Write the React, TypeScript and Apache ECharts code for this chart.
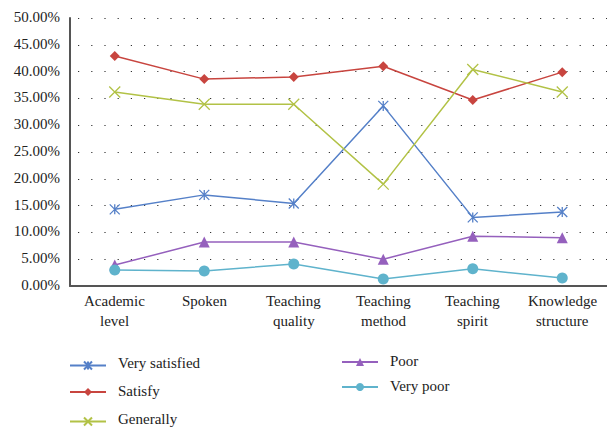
import React, { useEffect, useRef } from "react";
import * as echarts from "echarts";

const categories = ["Academic\nlevel", "Spoken", "Teaching\nquality", "Teaching\nmethod", "Teaching\nspirit", "Knowledge\nstructure"];
const verySatisfied = [14.3, 17.0, 15.4, 33.6, 12.8, 13.8];
const satisfy = [42.9, 38.6, 39.0, 41.0, 34.7, 39.9];
const generally = [36.2, 33.9, 33.9, 19.0, 40.4, 36.2];
const poor = [3.9, 8.2, 8.2, 5.0, 9.3, 9.0];
const veryPoor = [3.0, 2.8, 4.1, 1.3, 3.2, 1.5];
const yTicks = [0, 5, 10, 15, 20, 25, 30, 35, 40, 45, 50];

const FONT = "Liberation Serif";
const TEXT = "#222";
const W = 607;
const asterisk = "path://M0,0L10,10M10,0L0,10M5,0L5,10";
const cross = "path://M0,0L10,10M10,0L0,10";

const legendItems = [
  { name: "Very satisfied", left: 69, cy: 364 },
  { name: "Satisfy", left: 69, cy: 392 },
  { name: "Generally", left: 69, cy: 420 },
  { name: "Poor", left: 341, cy: 362 },
  { name: "Very poor", left: 341, cy: 387 },
];

const measure = (() => {
  const ctx = document.createElement("canvas").getContext("2d")!;
  ctx.font = "15px " + FONT;
  return (s: string) => ctx.measureText(s).width;
})();

const txt = (text: string, pos: any) => ({
  type: "text",
  ...pos,
  style: { text, fontFamily: FONT, fontSize: 15, fill: TEXT },
});

const mk = (name: string, data: number[], color: string, symbol: string, size: number, stroked: boolean) => ({
  name,
  type: "line",
  data,
  symbol,
  symbolSize: size,
  lineStyle: { color, width: 1.5 },
  itemStyle: stroked
    ? { color: "none", borderColor: color, borderWidth: 1.3 }
    : { color, borderColor: color, borderWidth: 0 },
  emphasis: { disabled: true },
});

const baseOption = () => ({
  animation: false,
  backgroundColor: "#fff",
  textStyle: { fontFamily: "Times New Roman" },
  grid: { left: 70, top: 18, width: 546, height: 268 },
  legend: legendItems.map((it) => ({
    data: [it.name],
    left: it.left,
    top: it.cy - 5,
    padding: 0,
    itemWidth: 36,
    itemHeight: 10,
    formatter: () => "",
    textStyle: { fontSize: 1, color: TEXT },
  })),
  xAxis: {
    type: "category",
    data: categories,
    boundaryGap: true,
    axisLine: { lineStyle: { color: "#555", width: 2 } },
    axisTick: { show: false },
    axisLabel: { show: false },
  },
  yAxis: {
    type: "value",
    min: 0,
    max: 50,
    interval: 5,
    axisLine: { show: true, lineStyle: { color: "#555", width: 2 } },
    axisTick: { show: false },
    axisLabel: { show: false },
    splitLine: { show: true, lineStyle: { color: "#333", width: 1.2, type: [1.2, 12], dashOffset: -8 } },
  },
  series: [
    mk("Very satisfied", verySatisfied, "#5580c8", asterisk, 10, true),
    mk("Satisfy", satisfy, "#c8453f", "diamond", 10, false),
    mk("Generally", generally, "#b2c246", cross, 11, true),
    mk("Poor", poor, "#9560bd", "triangle", 11, false),
    mk("Very poor", veryPoor, "#5fb3cc", "circle", 11, false),
  ],
});

export default function App() {
  const ref = useRef<HTMLDivElement>(null);
  useEffect(() => {
    document.body.style.margin = "0";
    // first pass: measure axis pixel positions
    const probe = echarts.init(ref.current!, undefined, { renderer: "svg" });
    probe.setOption(baseOption());
    const graphics: any[] = [];
    const y0 = probe.convertToPixel({ yAxisIndex: 0 }, 0) as number;
    categories.forEach((c, i) => {
      const x = probe.convertToPixel({ xAxisIndex: 0 }, i) as number;
      c.split("\n").forEach((line, k) => {
        graphics.push(txt(line, { left: Math.round(x - measure(line) / 2), top: y0 + 7 + k * 20 }));
      });
    });
    yTicks.forEach((v) => {
      const y = probe.convertToPixel({ yAxisIndex: 0 }, v) as number;
      graphics.push(txt(v.toFixed(2) + "%", { right: W - 60, top: Math.round(y - 9) }));
    });
    legendItems.forEach((it) => {
      graphics.push(txt(it.name, { left: it.left + 49, top: it.cy - 9 }));
    });
    probe.dispose();

    // second pass: fresh chart with everything in one option
    const chart = echarts.init(ref.current!, undefined, { renderer: "svg" });
    chart.setOption({ ...baseOption(), graphic: graphics });
    return () => chart.dispose();
  }, []);
  return <div ref={ref} style={{ width: 607, height: 427 }} />;
}
